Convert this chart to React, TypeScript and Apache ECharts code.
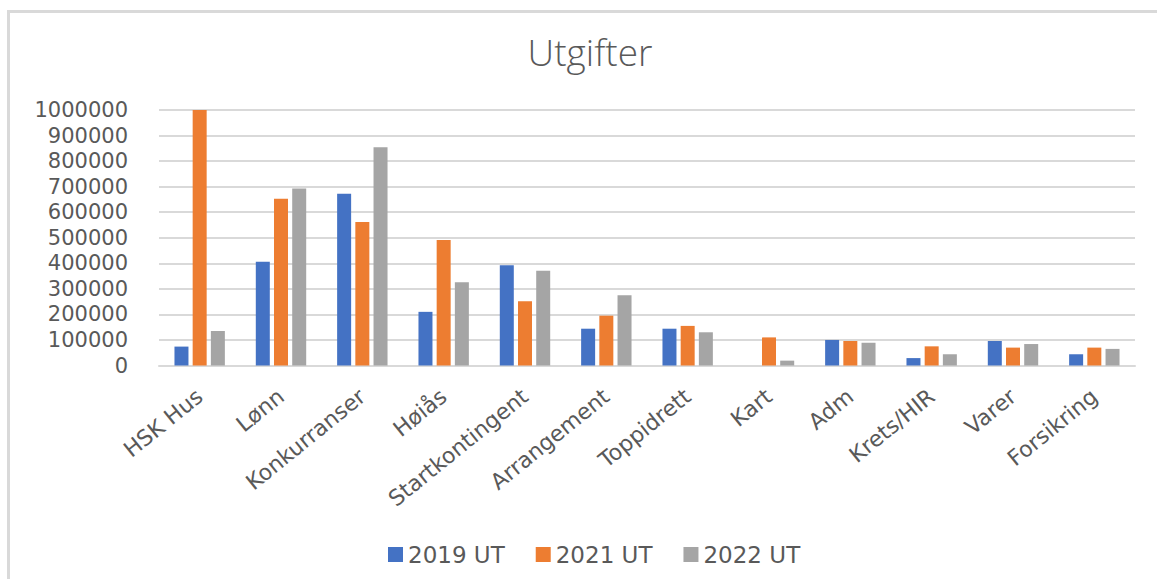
import React, { useEffect, useRef } from "react";
import * as echarts from "echarts";

const categories = [
  "HSK Hus", "Lønn", "Konkurranser", "Høiås", "Startkontingent", "Arrangement",
  "Toppidrett", "Kart", "Adm", "Krets/HIR", "Varer", "Forsikring",
];
const ut2019 = [74000, 406000, 672000, 210000, 392000, 144000, 144000, 0, 100000, 29000, 96000, 44000];
const ut2021 = [1000000, 653000, 562000, 491000, 251000, 195000, 155000, 110000, 96000, 75000, 70000, 70000];
const ut2022 = [135000, 693000, 854000, 326000, 371000, 275000, 130000, 19000, 89000, 44000, 84000, 65000];
const seriesNames = ["2019 UT", "2021 UT", "2022 UT"];
const colors = ["#4472C4", "#ED7D31", "#A5A5A5"];

export default function App() {
  const ref = useRef<HTMLDivElement>(null);
  useEffect(() => {
    if (!ref.current) return;
    const chart = echarts.init(ref.current, undefined, { renderer: "svg" });
    const font = "DejaVu Sans";
    const data = [ut2019, ut2021, ut2022];
    chart.setOption({
      animation: false,
      backgroundColor: "#ffffff",
      color: colors,
      title: {
        text: "Utgifter",
        left: 585,
        textAlign: "center",
        top: 28,
        textStyle: { fontFamily: "Open Sans", fontWeight: 300, fontSize: 37, color: "#595959" },
      },
      graphic: [
        {
          type: "rect",
          shape: { x: 8.5, y: 11.5, width: 1300, height: 800 },
          style: { fill: "none", stroke: "#d9d9d9", lineWidth: 3 },
          silent: true,
        },
      ],
      legend: {
        data: seriesNames,
        top: 538,
        left: 383,
        itemWidth: 15,
        itemHeight: 15,
        itemGap: 31,
        icon: "rect",
        textStyle: { fontFamily: font, fontSize: 23, color: "#595959" },
      },
      grid: { left: 159, right: 22, top: 110, bottom: 213.5, containLabel: false },
      xAxis: {
        type: "category",
        data: categories,
        axisLine: { lineStyle: { color: "#d9d9d9", width: 2 } },
        axisTick: { show: false },
        axisLabel: {
          rotate: 39,
          margin: 28,
          interval: 0,
          fontFamily: font,
          fontSize: 22,
          color: "#595959",
        },
      },
      yAxis: {
        type: "value",
        min: 0,
        max: 1000000,
        interval: 100000,
        axisLine: { show: false },
        axisTick: { show: false },
        splitLine: { lineStyle: { color: "#d9d9d9", width: 2 } },
        axisLabel: {
          margin: 31,
          fontFamily: font,
          fontSize: 21,
          color: "#595959",
          formatter: (v: number) => String(v),
        },
      },
      series: seriesNames.map((name, i) => ({
        name,
        type: "bar",
        data: data[i],
        barWidth: 14,
        barGap: "30%",
        itemStyle: { color: colors[i] },
      })),
    });
    return () => chart.dispose();
  }, []);
  return (
    <div
      ref={ref}
      style={{ position: "fixed", left: 0, top: 0, width: 1157, height: 579, background: "#fff" }}
    />
  );
}
